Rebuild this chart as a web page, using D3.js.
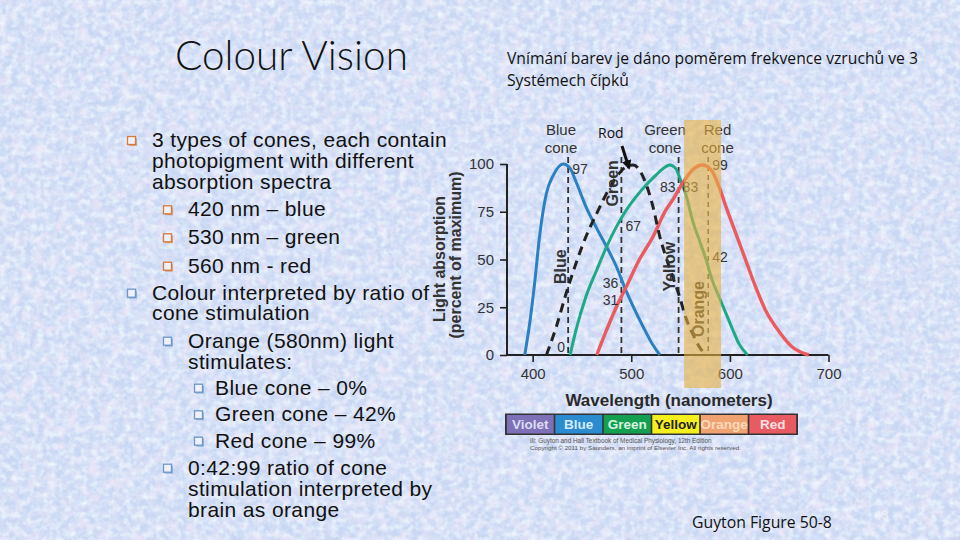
<!DOCTYPE html>
<html><head><meta charset="utf-8">
<script src="https://cdn.jsdelivr.net/npm/d3@7"></script>
<style>html,body{margin:0;padding:0;background:#c8d7f2;}svg{display:block;}</style>
</head><body>
<svg id="c" width="960" height="540"></svg>
<script>
// ---- data ----
const wavelengthTicks = [400, 500, 600, 700];
const absorptionTicks = [0, 25, 50, 75, 100];
const blueCone = [[392,0],[397,16.6],[402,37.5],[407,62],[414,84.7],[421,94.2],[431,100],[438,97.7],[444,90.7],[454,77.7],[465,66.3],[475,56.7],[485,46.2],[493,35.8],[502,25.3],[512,14.8],[522,5.2],[529,0]];
const greenCone = [[438,0],[444,13.1],[454,30.5],[465,44.5],[475,56.7],[485,67.2],[495,75.9],[505,82.9],[515,89],[525,94.2],[532,97.5],[539,99.5],[545,97.7],[550,91.6],[556,82.9],[562,70.7],[569,60.2],[576,49.7],[582,39.3],[589,30.5],[596,21.8],[603,13.1],[609,6.1],[618,0]];
const redCone = [[465,0],[475,13.1],[485,25.3],[495,35.8],[508,49.7],[522,61.9],[535,75.9],[542,81.2],[552,89.9],[562,96.9],[572,99.5],[581,96.9],[589,88.1],[596,77.7],[606,63.7],[616,49.7],[626,35.8],[636,23.6],[650,12.2],[663,4.3],[680,0]];
const rod = [[414,0],[424,14.8],[434,32.3],[444,48],[454,61.9],[465,74.1],[475,84.6],[485,93.3],[495,98.6],[502,99.5],[512,93.3],[522,77.7],[529,61.9],[535,51.5],[542,41],[549,30.5],[555,20],[562,11.4],[570,3.5],[576,0]];
const markerLines = [436, 490, 548, 578];
const valueLabels = [["97",436,"r",97],["0",436,"l",0],["67",490,"r",67],["36",490,"l",36],["31",490,"l",31],["83",548,"l",83],["83",548,"r",83],["99",578,"r",99],["42",578,"r",42]];
const coneLabels = ["Blue", "Green", "Red"];
const regionLabels = ["Blue", "Green", "Yellow", "Orange"];
const orangeBand = [553.6, 591];
const spectrum = [
  {name:"Violet", fill:"#7e70b6", text:"#dcdcf4"},
  {name:"Blue", fill:"#2b8bd0", text:"#d4ecff"},
  {name:"Green", fill:"#14a050", text:"#d8f4e0"},
  {name:"Yellow", fill:"#f6ef1e", text:"#222"},
  {name:"Orange", fill:"#f0a272", text:"#fbd9bd"},
  {name:"Red", fill:"#e95b63", text:"#fbe0e0"}
];
const bulletLines = [
  {lvl:1, b:"o", t:"3 types of cones, each contain"},
  {lvl:1, b:null, t:"photopigment with different"},
  {lvl:1, b:null, t:"absorption spectra"},
  {lvl:2, b:"o", t:"420 nm – blue"},
  {lvl:2, b:"o", t:"530 nm – green"},
  {lvl:2, b:"o", t:"560 nm - red"},
  {lvl:1, b:"b", t:"Colour interpreted by ratio of"},
  {lvl:1, b:null, t:"cone stimulation"},
  {lvl:2, b:"b", t:"Orange (580nm) light"},
  {lvl:2, b:null, t:"stimulates:"},
  {lvl:3, b:"b", t:"Blue cone – 0%"},
  {lvl:3, b:"b", t:"Green cone – 42%"},
  {lvl:3, b:"b", t:"Red cone – 99%"},
  {lvl:2, b:"b", t:"0:42:99 ratio of cone"},
  {lvl:2, b:null, t:"stimulation interpreted by"},
  {lvl:2, b:null, t:"brain as orange"}
];

const svg = d3.select("#c");
// ---- background texture ----
const defs = svg.append("defs");
function noise(id, freq, oct, seed, r, gC, b, ch, k, off){
  const f = defs.append("filter").attr("id",id).attr("x",0).attr("y",0).attr("width","100%").attr("height","100%");
  f.append("feTurbulence").attr("type","fractalNoise").attr("baseFrequency",freq).attr("numOctaves",oct).attr("seed",seed).attr("result","n");
  const a = [0,0,0,0]; a[ch]=k;
  f.append("feColorMatrix").attr("in","n").attr("type","matrix")
   .attr("values",`0 0 0 0 ${r}  0 0 0 0 ${gC}  0 0 0 0 ${b}  ${a.join(" ")} ${off}`);
}
noise("texP", "0.09", 3, 7, 0.88, 0.80, 0.94, 0, 2.0, -0.85);
noise("texL", "0.16", 2, 3, 0.86, 0.93, 0.99, 1, 2.0, -0.8);
noise("texB", "0.11", 2, 11, 0.72, 0.82, 0.97, 2, 1.6, -0.75);
svg.append("rect").attr("width",960).attr("height",540).attr("fill","#c9d7f3");
svg.append("rect").attr("width",960).attr("height",540).attr("filter","url(#texB)");
svg.append("rect").attr("width",960).attr("height",540).attr("filter","url(#texP)");
svg.append("rect").attr("width",960).attr("height",540).attr("filter","url(#texL)");

// ---- left text ----
function fit(sel, w){ const n=sel.node(); const L=n.getComputedTextLength(); const fs=parseFloat(sel.attr("font-size")); sel.attr("font-size", fs*w/L); }
const title = svg.append("text").attr("x",175).attr("y",70).attr("font-family","Lato, 'Open Sans', sans-serif").attr("font-weight",300).attr("font-size",40).attr("fill","#111").text("Colour Vision");
fit(title, 233);

const xText = {1:152, 2:188, 3:215};
const xBul = {1:132, 2:168, 3:199};
const rowY = [140,160.7,181.7,209.3,237.3,265.7,292.7,313.3,340.7,361.7,387.7,414.3,440.7,467.7,489,510];
const lg = svg.append("g");
const FS = 21;
const probe = lg.append("text").attr("font-family","'Liberation Sans', Arial, sans-serif").attr("font-size",FS).text(bulletLines[0].t);
const LS = (295 - probe.node().getComputedTextLength()) / bulletLines[0].t.length;
probe.remove();
bulletLines.forEach((d,i)=>{
  lg.append("text").attr("x",xText[d.lvl]).attr("y",rowY[i]+7).attr("font-family","'Liberation Sans', Arial, sans-serif")
    .attr("font-size",FS).attr("letter-spacing",LS).attr("fill","#111").text(d.t);
  if(d.b){
    const c = d.b==="o" ? "#d47a3c" : "#6b96c6";
    const cx = xBul[d.lvl], cy = rowY[i]+1;
    lg.append("rect").attr("x",cx-3).attr("y",cy-3).attr("width",8).attr("height",8).attr("fill",c).attr("opacity",0.6);
    lg.append("rect").attr("x",cx-4.5).attr("y",cy-4.5).attr("width",8).attr("height",8).attr("fill","#f0f0f8").attr("stroke",c).attr("stroke-width",1.3);
  }
});

// ---- right top text ----
const rt1 = svg.append("text").attr("x",507).attr("y",64).attr("font-family","'Open Sans', sans-serif").attr("font-size",14).attr("fill","#111").text("Vnímání barev je dáno poměrem frekvence vzruchů ve 3");
fit(rt1, 411);
svg.append("text").attr("x",507).attr("y",86).attr("font-family","'Open Sans', sans-serif").attr("font-size",rt1.attr("font-size")).attr("fill","#111").text("Systémech čípků");
const gf = svg.append("text").attr("x",692).attr("y",528).attr("font-family","'Open Sans', sans-serif").attr("font-size",15).attr("fill","#111").text("Guyton Figure 50-8");
fit(gf, 140);
svg.append("text").attr("x",876).attr("y",519).attr("font-family","'Open Sans', sans-serif").attr("font-size",11).attr("fill","#eef2fb").text("13");

// ---- chart ----
const x = d3.scaleLinear().domain([374,700]).range([507,828.5]);
const y = d3.scaleLinear().domain([0,100]).range([355,164]);
const F = "'Liberation Sans', Arial, sans-serif";
const g = svg.append("g");

const ya = g.append("g").attr("transform","translate(507,0)")
 .call(d3.axisLeft(y).tickValues(absorptionTicks).tickSize(7).tickPadding(6).tickFormat(d3.format("d")));
const xa = g.append("g").attr("transform","translate(0,355)")
 .call(d3.axisBottom(x).tickValues(wavelengthTicks).tickSize(7).tickPadding(6).tickFormat(d3.format("d")));
[ya,xa].forEach(a=>{
  a.select(".domain").attr("stroke","#222").attr("stroke-width",2);
  a.selectAll(".tick line").attr("stroke","#222").attr("stroke-width",1.6);
  a.selectAll("text").attr("font-family",F).attr("font-size",15).attr("fill","#333");
});
ya.select(".domain").attr("d","M0,355V164");
xa.select(".domain").attr("d","M507,0H828.5");

g.selectAll(".ml").data(markerLines).join("line")
 .attr("x1",d=>x(d)).attr("x2",d=>x(d)).attr("y1",157).attr("y2",355)
 .attr("stroke","#333").attr("stroke-width",(d,i)=>i===3?1.3:1.8).attr("stroke-dasharray",(d,i)=>i===3?"5,4":"6,4");

const line = d3.line().x(d=>x(d[0])).y(d=>y(d[1])).curve(d3.curveMonotoneX);
g.append("path").datum(blueCone).attr("d",line).attr("fill","none").attr("stroke","#2a80c2").attr("stroke-width",3);
g.append("path").datum(greenCone).attr("d",line).attr("fill","none").attr("stroke","#1ea886").attr("stroke-width",3);
g.append("path").datum(redCone).attr("d",line).attr("fill","none").attr("stroke","#ea5a5e").attr("stroke-width",3.4);
g.append("path").datum(rod).attr("d",line).attr("fill","none").attr("stroke","#222").attr("stroke-width",3).attr("stroke-dasharray","9,6");

const labelY = {"0":352,"36":288,"31":305,"42":262,"83":192};
g.selectAll(".vl").data(valueLabels).join("text")
 .attr("x",d=>d[2]==="r" ? x(d[1])+4 : x(d[1])-3)
 .attr("text-anchor",d=>d[2]==="r"?"start":"end")
 .attr("y",d=>labelY[d[0]] !== undefined ? labelY[d[0]] : y(d[3])+4)
 .attr("font-family",F).attr("font-size",14).attr("fill","#333").text(d=>d[0]);

const coneX = {Blue:561, Green:665, Red:717.5};
coneLabels.forEach(n=>{
  g.append("text").attr("x",coneX[n]).attr("y",135).attr("text-anchor","middle").attr("font-family",F).attr("font-size",15).attr("fill","#333").text(n);
  g.append("text").attr("x",coneX[n]).attr("y",153).attr("text-anchor","middle").attr("font-family",F).attr("font-size",15).attr("fill","#333").text("cone");
});

const regionPos = {Blue:[559.5,266.7],Green:[611.7,183.3],Yellow:[669,266.7],Orange:[697.5,309]};
regionLabels.forEach(n=>{
  const p = regionPos[n];
  g.append("text").attr("transform",`translate(${p[0]+6},${p[1]}) rotate(-90)`).attr("text-anchor","middle")
   .attr("font-family",F).attr("font-weight","bold").attr("font-size",16).attr("fill","#333").text(n);
});

g.append("rect").attr("x",x(orangeBand[0])).attr("width",x(orangeBand[1])-x(orangeBand[0])).attr("y",120).attr("height",268)
 .attr("fill","#e8b040").attr("opacity",0.6);

svg.append("text").attr("transform","translate(445,259) rotate(-90)").attr("text-anchor","middle").attr("font-family",F).attr("font-weight","bold").attr("font-size",16).attr("fill","#333").text("Light absorption");
svg.append("text").attr("transform","translate(461,255) rotate(-90)").attr("text-anchor","middle").attr("font-family",F).attr("font-weight","bold").attr("font-size",16).attr("fill","#333").text("(percent of maximum)");
svg.append("text").attr("x",669).attr("y",406).attr("text-anchor","middle").attr("font-family",F).attr("font-weight","bold").attr("font-size",17).attr("fill","#2a2a2a").text("Wavelength (nanometers)");

defs.append("marker").attr("id","ah").attr("viewBox","0 0 10 10").attr("refX",8).attr("refY",5).attr("markerWidth",3.2).attr("markerHeight",3.2).attr("orient","auto")
 .append("path").attr("d","M0,0L10,5L0,10z").attr("fill","#111");
svg.append("text").attr("x",598).attr("y",138).attr("font-family","'Open Sans', sans-serif").attr("font-size",14).attr("fill","#111").text("Rod");
svg.append("line").attr("x1",622).attr("y1",146).attr("x2",629).attr("y2",168).attr("stroke","#111").attr("stroke-width",3).attr("marker-end","url(#ah)");

const sb = d3.scaleBand().domain(spectrum.map(d=>d.name)).range([506,797]).padding(0);
const sg = svg.append("g");
sg.append("rect").attr("x",505).attr("y",413.5).attr("width",293).attr("height",21.5).attr("fill","#333");
sg.selectAll("rect.c").data(spectrum).join("rect").attr("class","c")
 .attr("x",d=>sb(d.name)+0.8).attr("y",415).attr("width",sb.bandwidth()-1.6).attr("height",18.5).attr("fill",d=>d.fill);
sg.selectAll("text").data(spectrum).join("text")
 .attr("x",d=>sb(d.name)+sb.bandwidth()/2).attr("y",429).attr("text-anchor","middle")
 .attr("font-family",F).attr("font-weight","bold").attr("font-size",13.5).attr("fill",d=>d.text).text(d=>d.name);

const c1 = svg.append("text").attr("x",530).attr("y",443).attr("font-family",F).attr("font-size",6).attr("fill","#555").text("Ill: Guyton and Hall Textbook of Medical Physiology, 12th Edition");
fit(c1, 182);
const c2 = svg.append("text").attr("x",530).attr("y",450).attr("font-family",F).attr("font-size",6).attr("fill","#555").text("Copyright © 2011 by Saunders, an imprint of Elsevier Inc. All rights reserved.");
fit(c2, 211);
</script>
</body></html>
